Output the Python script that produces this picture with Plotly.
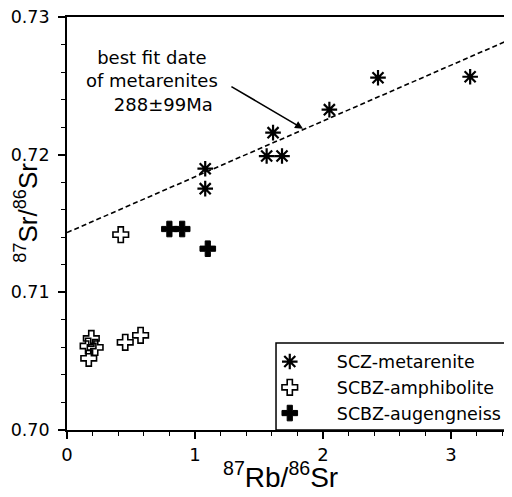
import plotly.graph_objects as go

# SCZ-metarenite
met_x = [1.08, 1.08, 1.61, 1.56, 1.68, 2.05, 2.43, 3.15]
met_y = [0.71898, 0.71753, 0.7216, 0.7199, 0.7199, 0.72327, 0.72559, 0.72566]
# SCBZ-amphibolite
amp_x = [0.42, 0.19, 0.22, 0.165, 0.17, 0.455, 0.575]
amp_y = [0.71419, 0.70665, 0.70600, 0.70610, 0.70521, 0.70637, 0.70688]
# SCBZ-augengneiss
aug_x = [0.80, 0.90, 1.10]
aug_y = [0.7146, 0.7146, 0.71317]
# best fit line endpoints
fit_x = [0.0, 3.5]
fit_y = [0.71434, 0.72852]

x_ticks = [0, 1, 2, 3]
y_ticks = [0.70, 0.71, 0.72, 0.73]
y_ticktext = ["0.70", "0.71", "0.72", "0.73"]

font = "DejaVu Sans, Verdana, sans-serif"
tfont = "Liberation Sans, Arial, sans-serif"

fig = go.Figure()
fig.add_trace(go.Scatter(x=fit_x, y=fit_y, mode="lines", showlegend=False,
                         line=dict(color="black", width=1.6, dash="5px,3px")))
fig.add_trace(go.Scatter(x=met_x, y=met_y, mode="markers", name="SCZ-metarenite",
                         marker=dict(symbol="asterisk-open", size=13, color="black",
                                     line=dict(color="black", width=2.2))))
fig.add_trace(go.Scatter(x=amp_x, y=amp_y, mode="markers", name="SCBZ-amphibolite",
                         marker=dict(symbol="cross-open", size=13, color="black",
                                     line=dict(color="black", width=1.6))))
fig.add_trace(go.Scatter(x=aug_x, y=aug_y, mode="markers", name="SCBZ-augengneiss",
                         marker=dict(symbol="cross", size=13, color="black",
                                     line=dict(color="black", width=1))))

# legend box
fig.add_shape(type="rect", xref="paper", yref="paper", x0=0.4697, x1=1.2, y0=0, y1=0.2107,
              line=dict(color="black", width=1.5), fillcolor="white", layer="below")

fig.add_annotation(x=1.844, y=0.72189, ax=1.273, ay=0.72501, xref="x", yref="y",
                   axref="x", ayref="y", text="", showarrow=True, arrowhead=2,
                   arrowsize=1, arrowwidth=1.6, arrowcolor="black")
fig.add_annotation(x=0.665, y=0.72537, xref="x", yref="y", showarrow=False,
                   text="best fit date<br>of metarenites<br>\u00a0\u00a0\u00a0\u00a0288±99Ma",
                   align="center", font=dict(family=font, size=18, color="black"))

# axis titles
fig.add_annotation(x=0.4787, y=0, xref="paper", yref="paper", yanchor="middle",
                   xanchor="center", yshift=-45, showarrow=False,
                   text="<sup>87</sup>Rb/<sup>86</sup>Sr",
                   font=dict(family=tfont, size=28, color="black"))
fig.add_annotation(x=0, y=0.526, xref="paper", yref="paper", xanchor="center",
                   yanchor="middle", xshift=-40, textangle=-90, showarrow=False,
                   text="<sup>87</sup>Sr/<sup>86</sup>Sr",
                   font=dict(family=tfont, size=26, color="black"))

fig.update_layout(
    width=504, height=489,
    margin=dict(l=59, r=0, t=9, b=67),
    paper_bgcolor="white", plot_bgcolor="white",
    font=dict(family=font, color="black"),
    showlegend=True,
    legend=dict(x=0.395, y=0.209, xanchor="left", yanchor="top",
                bgcolor="rgba(0,0,0,0)", borderwidth=0, itemwidth=84,
                font=dict(family=font, size=17.5, color="black"),
                tracegroupgap=0),
    xaxis=dict(range=[0, 3.477], tickvals=x_ticks, ticktext=[str(v) for v in x_ticks],
               automargin=False, ticklabeloverflow="allow",
               showgrid=False, zeroline=False, showline=True, linecolor="black",
               linewidth=1.8, mirror=True, ticks="outside", ticklen=7, tickwidth=1.5,
               tickcolor="black", tickfont=dict(family=font, size=18),
               minor=dict(dtick=0.2, tick0=0, ticks="outside", ticklen=4,
                          tickcolor="black", tickwidth=1.2)),
    yaxis=dict(range=[0.70, 0.73], tickvals=y_ticks, ticktext=y_ticktext,
               automargin=False, ticklabeloverflow="allow", ticklabelstandoff=5,
               showgrid=False, zeroline=False, showline=True, linecolor="black",
               linewidth=1.8, mirror=False, ticks="outside", ticklen=7, tickwidth=1.5,
               tickcolor="black", tickfont=dict(family=font, size=17.5),
               minor=dict(dtick=0.002, tick0=0.70, ticks="outside", ticklen=4,
                          tickcolor="black", tickwidth=1.2)),
)

fig.write_html("out.html")
